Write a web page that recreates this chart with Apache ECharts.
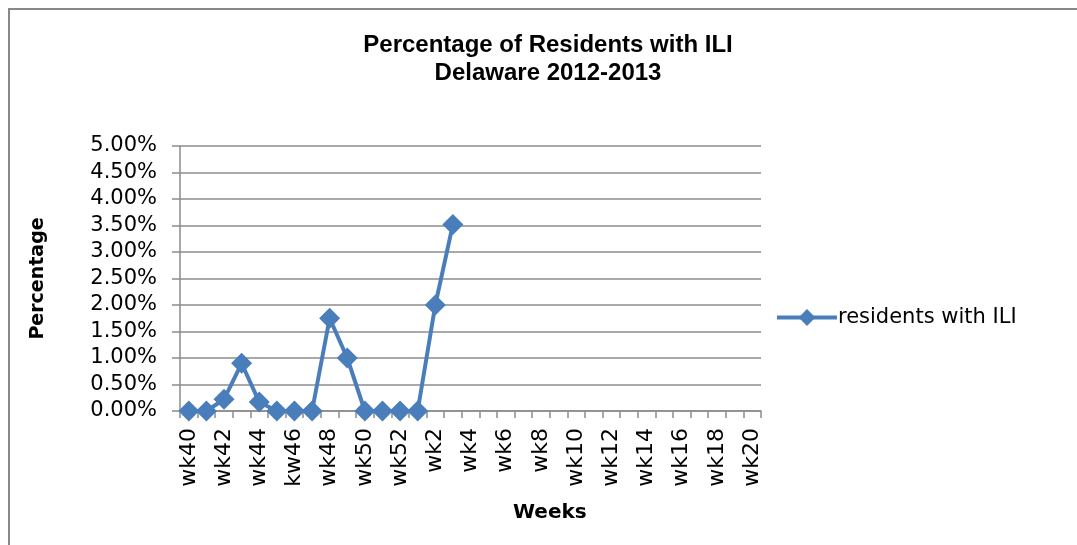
<!DOCTYPE html>
<html>
<head>
<meta charset="utf-8">
<script src="https://cdn.jsdelivr.net/npm/echarts@6/dist/echarts.min.js"></script>
<style>
  html, body { margin: 0; padding: 0; background: #fff; }
  #chart { width: 1077px; height: 545px; }
</style>
</head>
<body>
<div id="chart"></div>
<script>
// week labels as printed in the source chart (note the "kw46" typo)
const weeks = [
  'wk40', 'wk41', 'wk42', 'wk43', 'wk44', 'wk45', 'kw46', 'wk47', 'wk48', 'wk49',
  'wk50', 'wk51', 'wk52', 'wk1', 'wk2', 'wk3', 'wk4', 'wk5', 'wk6', 'wk7',
  'wk8', 'wk9', 'wk10', 'wk11', 'wk12', 'wk13', 'wk14', 'wk15', 'wk16', 'wk17',
  'wk18', 'wk19', 'wk20'
]

// percent of residents with ILI, null = not reported yet
const residentsWithIli = [
  0, 0, 0.22, 0.9, 0.17, 0, 0, 0, 1.75, 1.0,
  0, 0, 0, 0, 2.0, 3.52, null, null, null, null,
  null, null, null, null, null, null, null, null, null, null,
  null, null, null
]

const yMin = 0
const yMax = 5
const yStep = 0.5

const blue = '#4a7ebb'
const gridGray = '#8c8c8c'
const labelFont = '"DejaVu Sans", sans-serif'

const chart = echarts.init(document.getElementById('chart'), null, { renderer: 'canvas' })

chart.setOption({
  backgroundColor: '#fff',
  animation: false,
  title: {
    text: 'Percentage of Residents with ILI\nDelaware 2012-2013',
    left: 543,
    top: 26,
    textAlign: 'center',
    textStyle: {
      fontFamily: '"Liberation Sans", Arial, sans-serif',
      fontWeight: 'bold',
      fontSize: 24,
      lineHeight: 28,
      color: '#000'
    }
  },
  legend: {
    left: 770,
    top: 302,
    itemWidth: 60,
    itemHeight: 21,
    itemGap: 0,
    lineStyle: { width: 4 },
    textStyle: { fontFamily: labelFont, fontSize: 21, color: '#000', padding: [0, 0, 0, -4] },
    data: ['residents with ILI']
  },
  grid: { left: 180, right: 316, top: 146, bottom: 134, containLabel: false },
  xAxis: {
    type: 'category',
    data: weeks,
    boundaryGap: true,
    axisLine: { lineStyle: { color: gridGray, width: 1.5 } },
    axisTick: { show: true, interval: 0, length: 7, lineStyle: { color: gridGray, width: 1.5 } },
    axisLabel: {
      interval: 1,
      rotate: 90,
      margin: 17,
      fontFamily: labelFont,
      fontSize: 22,
      color: '#000'
    },
    splitLine: { show: false }
  },
  yAxis: {
    type: 'value',
    min: yMin,
    max: yMax,
    interval: yStep,
    name: 'Percentage',
    nameLocation: 'middle',
    nameRotate: 90,
    nameGap: 132,
    nameTextStyle: { fontFamily: labelFont, fontWeight: 'bold', fontSize: 19, color: '#000' },
    axisLine: { show: true, lineStyle: { color: gridGray, width: 1.5 } },
    axisTick: { show: true, length: 8, lineStyle: { color: gridGray, width: 1.5 } },
    axisLabel: {
      margin: 23,
      fontFamily: labelFont,
      fontSize: 21,
      color: '#000',
      formatter: (v) => v.toFixed(2) + '%'
    },
    splitLine: { lineStyle: { color: gridGray, width: 1.5 } }
  },
  series: [
    {
      name: 'residents with ILI',
      type: 'line',
      data: residentsWithIli,
      connectNulls: false,
      showAllSymbol: true,
      symbol: 'diamond',
      symbolSize: 21,
      lineStyle: { color: blue, width: 4 },
      itemStyle: { color: blue }
    }
  ],
  graphic: [
    {
      type: 'polyline',
      shape: { points: [[9, 545], [9, 9], [1077, 9]] },
      style: { stroke: '#888', lineWidth: 2, fill: null }
    },
    {
      type: 'text',
      left: 513,
      top: 503,
      style: {
        text: 'Weeks',
        fontFamily: labelFont,
        fontWeight: 'bold',
        fontSize: 20,
        fill: '#000'
      }
    }
  ]
})
</script>
</body>
</html>
